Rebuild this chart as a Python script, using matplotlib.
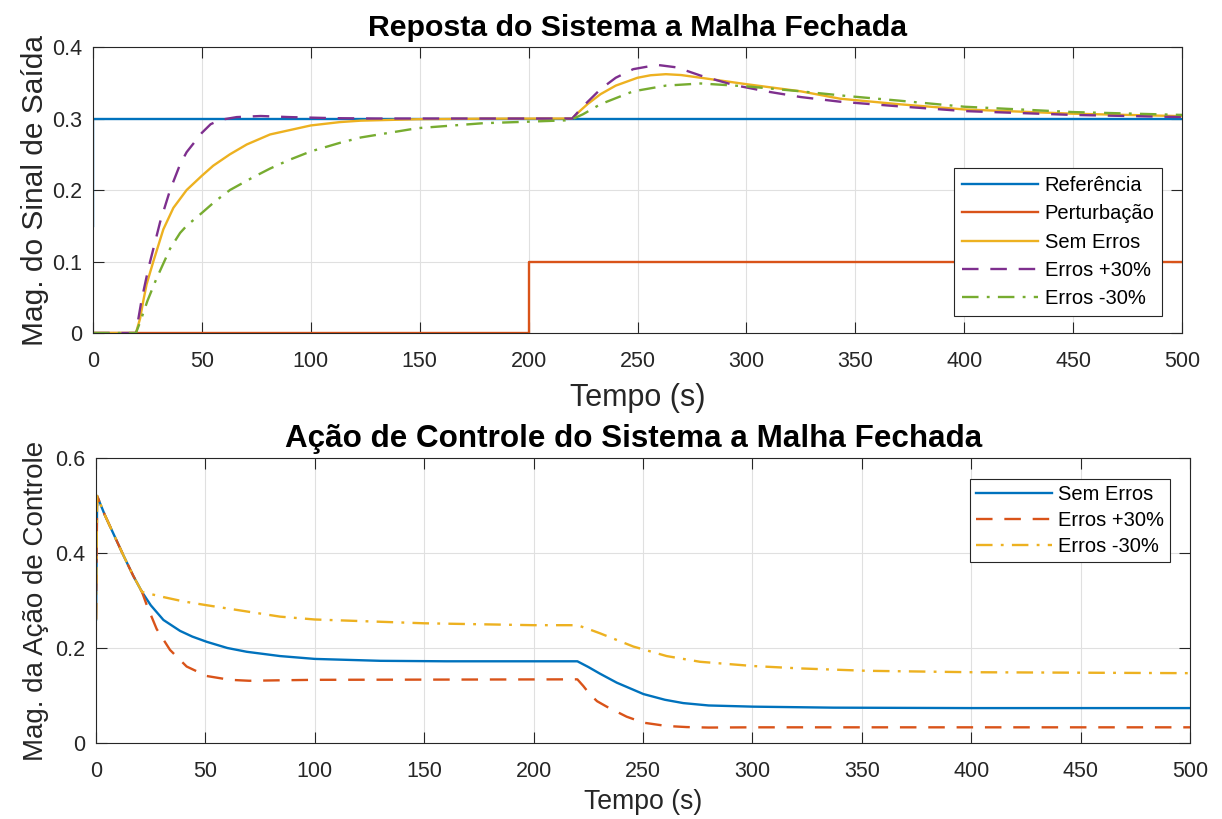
import numpy as np
import matplotlib.pyplot as plt
from matplotlib.ticker import FormatStrFormatter

plt.rcParams['font.family'] = ['Liberation Sans', 'DejaVu Sans']

# cores padrao do MATLAB
azul = '#0072BD'
laranja = '#D95319'
amarelo = '#EDB120'
roxo = '#7E2F8E'
verde = '#77AC30'
cinza = '#262626'

# ---- Resposta do sistema ----
t_ref = [0, 0, 500]
referencia = [0.15, 0.3, 0.3]

t_pert = [0, 200, 200, 500]
perturbacao = [0, 0, 0.1, 0.1]

t_sem = [0, 19.7, 21.6, 23.1, 24.6, 27.7, 32.3, 36.9, 43, 50, 55.2, 62.9, 70.6,
         81.3, 100, 113.4, 123, 149, 180, 220, 223, 227, 233, 240, 250, 256,
         263, 270, 279, 300, 325, 343, 370, 400, 450, 500]
y_sem = [0, 0, 0.02, 0.045, 0.068, 0.1, 0.145, 0.175, 0.2, 0.22, 0.234,
         0.25, 0.2637, 0.2777, 0.2903, 0.295, 0.297, 0.299, 0.2998, 0.3,
         0.309, 0.320, 0.334, 0.346, 0.357, 0.3605, 0.362, 0.3608, 0.357,
         0.348, 0.338, 0.3277, 0.32, 0.3127, 0.3067, 0.3033]

t_mais = [0, 19.7, 22.3, 25.4, 30.8, 35.4, 40, 43, 50, 54, 58.3, 66, 77, 90,
          110, 130, 220, 225, 233, 240, 248, 259, 268, 279, 294, 309, 325, 343,
          370, 400, 450, 500]
y_mais = [0, 0, 0.046, 0.09, 0.155, 0.2, 0.236, 0.253, 0.28, 0.292, 0.298,
          0.302, 0.3035, 0.302, 0.3005, 0.3, 0.3, 0.317, 0.341, 0.357, 0.369,
          0.375, 0.3715, 0.36, 0.347, 0.338, 0.330, 0.3235, 0.317, 0.3104,
          0.305, 0.302]

t_menos = [0, 19.7, 21.6, 25, 29, 35.4, 40, 43, 50, 56, 62.9, 73.6, 81.3, 90,
           100, 113.4, 123, 149, 179, 219, 225, 233, 248, 263, 279, 300, 325,
           346, 370, 400, 450, 500]
y_menos = [0, 0, 0.015, 0.045, 0.075, 0.118, 0.14, 0.15, 0.168, 0.184, 0.2,
           0.218, 0.23, 0.242, 0.254, 0.266, 0.2735, 0.2865, 0.2934, 0.2976,
           0.306, 0.320, 0.338, 0.346, 0.349, 0.345, 0.338, 0.3315, 0.325,
           0.3165, 0.309, 0.305]

# ---- Acao de controle ----
t_u_sem = [0, 0.5, 4, 8, 12.5, 17, 21, 25, 30.8, 38.4, 44, 50.6, 60, 68.9, 84.1,
           100, 130, 160, 220, 225, 230.3, 238, 250.2, 260, 268.4, 280, 300.4,
           337, 400, 500]
u_sem = [0.26, 0.52, 0.48, 0.44, 0.395, 0.352, 0.318, 0.29, 0.259, 0.236,
         0.224, 0.213, 0.2, 0.192, 0.183, 0.177, 0.173, 0.172, 0.172, 0.16,
         0.146, 0.127, 0.103, 0.091, 0.084, 0.079, 0.0765, 0.0744, 0.0735,
         0.0735]

t_u_mais = [0, 0.5, 4, 8, 12.5, 17, 21, 23.2, 27.7, 33.8, 41.4, 50.6, 61.2, 70,
            84, 100, 220, 222.7, 225.8, 229, 233.4, 242.5, 250.2, 260.8, 270,
            280, 300, 500]
u_mais = [0.26, 0.52, 0.48, 0.44, 0.395, 0.352, 0.318, 0.29, 0.24, 0.196,
          0.161, 0.141, 0.133, 0.131, 0.132, 0.133, 0.134, 0.12, 0.102, 0.088,
          0.0765, 0.0554, 0.0428, 0.0358, 0.0335, 0.0325, 0.033, 0.033]

t_u_menos = [0, 0.5, 4, 8, 12.5, 17, 21, 30, 40, 50.6, 84.1, 100, 150, 200, 220,
             225, 230.3, 245.6, 260.8, 276, 300.4, 321.8, 352.2, 400, 500]
u_menos = [0.26, 0.52, 0.48, 0.44, 0.395, 0.352, 0.318, 0.308, 0.298, 0.290,
           0.266, 0.260, 0.252, 0.248, 0.248, 0.24, 0.231, 0.203, 0.183, 0.171,
           0.162, 0.157, 0.152, 0.149, 0.147]

tracejado = (7, 5)
traco_ponto = (7, 3.5, 1.2, 3.5)
lw = 1.7


def estilo_eixo(ax):
    ax.grid(True, color='#e0e0e0', linewidth=0.8)
    ax.set_axisbelow(True)
    ax.tick_params(direction='in', length=8, width=0.8, top=True, right=True,
                   labelsize=15.5, colors=cinza)
    ax.tick_params(axis='x', pad=13)
    ax.tick_params(axis='y', pad=8)
    ax.yaxis.set_major_formatter(FormatStrFormatter('%g'))
    for s in ax.spines.values():
        s.set_color(cinza)
        s.set_linewidth(0.8)


def legenda(ax, ancora, espaco, borda):
    leg = ax.legend(loc='upper right', bbox_to_anchor=ancora, borderaxespad=0,
                    fontsize=14.5, handlelength=3.8, handletextpad=0.3,
                    labelspacing=espaco, borderpad=borda, fancybox=False,
                    framealpha=1, edgecolor=cinza)
    leg.get_frame().set_linewidth(0.8)


fig = plt.figure(figsize=(12.22, 8.19), dpi=100)

# grafico de cima
ax1 = fig.add_axes([0.0761, 0.5934, 0.8912, 0.3492])
ax1.plot(t_ref, referencia, color=azul, lw=lw, label='Referência')
ax1.plot(t_pert, perturbacao, color=laranja, lw=lw, label='Perturbação')
ax1.plot(t_sem, y_sem, color=amarelo, lw=lw, label='Sem Erros')
ax1.plot(t_mais, y_mais, color=roxo, lw=lw, dashes=tracejado, label='Erros +30%')
ax1.plot(t_menos, y_menos, color=verde, lw=lw, dashes=traco_ponto, label='Erros -30%')
ax1.set_xlim(0, 500)
ax1.set_ylim(0, 0.4)
ax1.set_xticks(np.arange(0, 501, 50))
ax1.set_yticks([0, 0.1, 0.2, 0.3, 0.4])
estilo_eixo(ax1)
ax1.set_title('Reposta do Sistema a Malha Fechada', fontsize=21.8, fontweight='bold', pad=8)
ax1.set_xlabel('Tempo (s)', fontsize=22, color=cinza, labelpad=8)
ax1.set_ylabel('Mag. do Sinal de Saída', fontsize=21.5, color=cinza, labelpad=2)
legenda(ax1, (0.982, 0.577), 0.46, 0.4)

# grafico de baixo
ax2 = fig.add_axes([0.0786, 0.0928, 0.8952, 0.348])
ax2.plot(t_u_sem, u_sem, color=azul, lw=lw, label='Sem Erros')
ax2.plot(t_u_mais, u_mais, color=laranja, lw=lw, dashes=tracejado, label='Erros +30%')
ax2.plot(t_u_menos, u_menos, color=amarelo, lw=lw, dashes=traco_ponto, label='Erros -30%')
ax2.set_xlim(0, 500)
ax2.set_ylim(0, 0.6)
ax2.set_xticks(np.arange(0, 501, 50))
ax2.set_yticks([0, 0.2, 0.4, 0.6])
estilo_eixo(ax2)
ax2.set_title('Ação de Controle do Sistema a Malha Fechada', fontsize=22.6,
              fontweight='bold', pad=8, x=0.491)
ax2.set_xlabel('Tempo (s)', fontsize=19.2, color=cinza, labelpad=5)
ax2.set_ylabel('Mag. da Ação de Controle', fontsize=20, color=cinza, labelpad=4)
legenda(ax2, (0.982, 0.926), 0.34, 0.3)

fig.savefig('out.png', dpi=100)
